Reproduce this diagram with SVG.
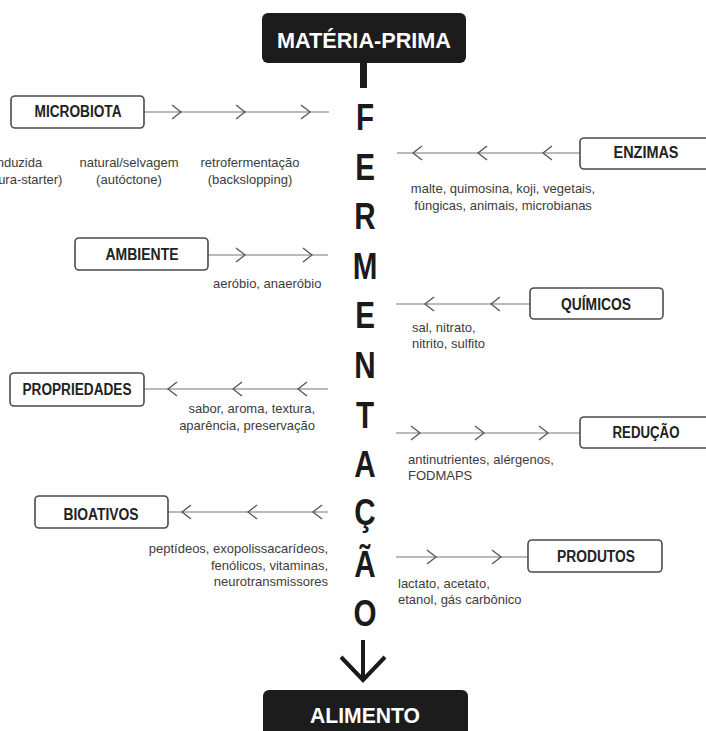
<svg xmlns="http://www.w3.org/2000/svg" width="706" height="731" viewBox="0 0 706 731">
<style>
.box{fill:#fff;stroke:#4a4a4a;stroke-width:1.6}
.dark{fill:#1c1c1c}
.bl{font-family:"Liberation Sans",Arial,sans-serif;font-weight:bold;font-size:16px;fill:#222;text-anchor:middle}
.wl{font-family:"Liberation Sans",Arial,sans-serif;font-weight:bold;font-size:22px;fill:#fff;text-anchor:middle}
.lb{font-family:"Liberation Sans",Arial,sans-serif;font-size:13px;fill:#3c3c3c}
.big{font-family:"Liberation Sans",Arial,sans-serif;font-weight:bold;font-size:37px;fill:#1a1a1a;text-anchor:middle}
.ln{stroke:#777;stroke-width:1.2;fill:none}
.ch{stroke:#555;stroke-width:1.3;fill:none}
</style>
<defs>
<path id="chr" d="M-9,-7 L0,0 L-9,7" class="ch"/>
<path id="chl" d="M9,-7 L0,0 L9,7" class="ch"/>
</defs>
<rect width="706" height="731" fill="#fff"/>

<g id="materia-prima">
<rect class="dark" x="262" y="13" width="204" height="50" rx="6"/>
<text class="wl" x="364" y="48" textLength="174" lengthAdjust="spacingAndGlyphs">MATÉRIA-PRIMA</text>
</g>

<g id="fermentacao">
<rect class="dark" x="360" y="62" width="7" height="26"/>
<g transform="translate(365,0) scale(0.8,1)">
<text class="big" x="0" y="130">F</text>
<text class="big" x="0" y="180">E</text>
<text class="big" x="0" y="229">R</text>
<text class="big" x="0" y="279">M</text>
<text class="big" x="0" y="328">E</text>
<text class="big" x="0" y="378">N</text>
<text class="big" x="0" y="428">T</text>
<text class="big" x="0" y="477">A</text>
<text class="big" x="0" y="525">Ç</text>
<text class="big" x="0" y="577">Ã</text>
<text class="big" x="0" y="626">O</text>
</g>
</g>

<g id="alimento">
<rect class="dark" x="263" y="690" width="205" height="50" rx="6"/>
<text class="wl" x="365" y="723" font-size="23" textLength="110" lengthAdjust="spacingAndGlyphs">ALIMENTO</text>
</g>

<g id="connectors">
<line x1="363" y1="640" x2="363" y2="680" stroke="#1a1a1a" stroke-width="4"/>
<path d="M341,657 L363,680 L385,657" fill="none" stroke="#1a1a1a" stroke-width="4"/>
<line class="ln" x1="144" y1="112" x2="329" y2="112"/>
<use href="#chr" x="181" y="112"/><use href="#chr" x="245" y="112"/><use href="#chr" x="310" y="112"/>
<line class="ln" x1="397" y1="153" x2="580" y2="153"/>
<use href="#chl" x="413" y="153"/><use href="#chl" x="478" y="153"/><use href="#chl" x="543" y="153"/>
<line class="ln" x1="208" y1="255" x2="328" y2="255"/>
<use href="#chr" x="245" y="255"/><use href="#chr" x="312" y="255"/>
<line class="ln" x1="396" y1="304" x2="530" y2="304"/>
<use href="#chl" x="425" y="304"/><use href="#chl" x="491" y="304"/>
<line class="ln" x1="144" y1="389" x2="328" y2="389"/>
<use href="#chl" x="168" y="389"/><use href="#chl" x="233" y="389"/><use href="#chl" x="298" y="389"/>
<line class="ln" x1="396" y1="433" x2="580" y2="433"/>
<use href="#chr" x="420" y="433"/><use href="#chr" x="484" y="433"/><use href="#chr" x="548" y="433"/>
<line class="ln" x1="168" y1="512" x2="328" y2="512"/>
<use href="#chl" x="182" y="512"/><use href="#chl" x="248" y="512"/><use href="#chl" x="313" y="512"/>
<line class="ln" x1="396" y1="557" x2="528" y2="557"/>
<use href="#chr" x="436" y="557"/><use href="#chr" x="501" y="557"/>
</g>

<g id="microbiota">
<rect class="box" x="11" y="96" width="133" height="32" rx="4"/>
<text class="bl" x="78" y="117" textLength="87" lengthAdjust="spacingAndGlyphs">MICROBIOTA</text>
<text class="lb" text-anchor="middle"><tspan x="18" y="167">induzida</tspan><tspan x="18" y="184">(cultura-starter)</tspan></text>
<text class="lb" text-anchor="middle"><tspan x="129" y="167">natural/selvagem</tspan><tspan x="129" y="184">(autóctone)</tspan></text>
<text class="lb" text-anchor="middle"><tspan x="250" y="167">retrofermentação</tspan><tspan x="250" y="184">(backslopping)</tspan></text>
</g>

<g id="enzimas">
<rect class="box" x="580" y="138" width="132" height="31" rx="4"/>
<text class="bl" x="646" y="158" textLength="65" lengthAdjust="spacingAndGlyphs">ENZIMAS</text>
<text class="lb" text-anchor="middle"><tspan x="503" y="193">malte, quimosina, koji, vegetais,</tspan><tspan x="503" y="210">fúngicas, animais, microbianas</tspan></text>
</g>

<g id="ambiente">
<rect class="box" x="75" y="238" width="133" height="32" rx="4"/>
<text class="bl" x="142" y="260" textLength="73" lengthAdjust="spacingAndGlyphs">AMBIENTE</text>
<text class="lb" x="213" y="288">aeróbio, anaeróbio</text>
</g>

<g id="quimicos">
<rect class="box" x="530" y="288" width="133" height="31" rx="4"/>
<text class="bl" x="596" y="310" textLength="70" lengthAdjust="spacingAndGlyphs">QUÍMICOS</text>
<text class="lb"><tspan x="412" y="332">sal, nitrato,</tspan><tspan x="412" y="348">nitrito, sulfito</tspan></text>
</g>

<g id="propriedades">
<rect class="box" x="10" y="373" width="134" height="33" rx="4"/>
<text class="bl" x="77" y="395" textLength="109" lengthAdjust="spacingAndGlyphs">PROPRIEDADES</text>
<text class="lb" text-anchor="end"><tspan x="315" y="413">sabor, aroma, textura,</tspan><tspan x="315" y="430">aparência, preservação</tspan></text>
</g>

<g id="reducao">
<rect class="box" x="580" y="417" width="132" height="31" rx="4"/>
<text class="bl" x="646" y="438" textLength="67" lengthAdjust="spacingAndGlyphs">REDUÇÃO</text>
<text class="lb"><tspan x="408" y="464">antinutrientes, alérgenos,</tspan><tspan x="408" y="480">FODMAPS</tspan></text>
</g>

<g id="bioativos">
<rect class="box" x="35" y="496" width="133" height="32" rx="4"/>
<text class="bl" x="101" y="520" textLength="75" lengthAdjust="spacingAndGlyphs">BIOATIVOS</text>
<text class="lb" text-anchor="end"><tspan x="328" y="553">peptídeos, exopolissacarídeos,</tspan><tspan x="328" y="570">fenólicos, vitaminas,</tspan><tspan x="328" y="586">neurotransmissores</tspan></text>
</g>

<g id="produtos">
<rect class="box" x="528" y="540" width="134" height="32" rx="4"/>
<text class="bl" x="596" y="562" textLength="78" lengthAdjust="spacingAndGlyphs">PRODUTOS</text>
<text class="lb"><tspan x="398" y="588">lactato, acetato,</tspan><tspan x="398" y="604">etanol, gás carbônico</tspan></text>
</g>
</svg>
